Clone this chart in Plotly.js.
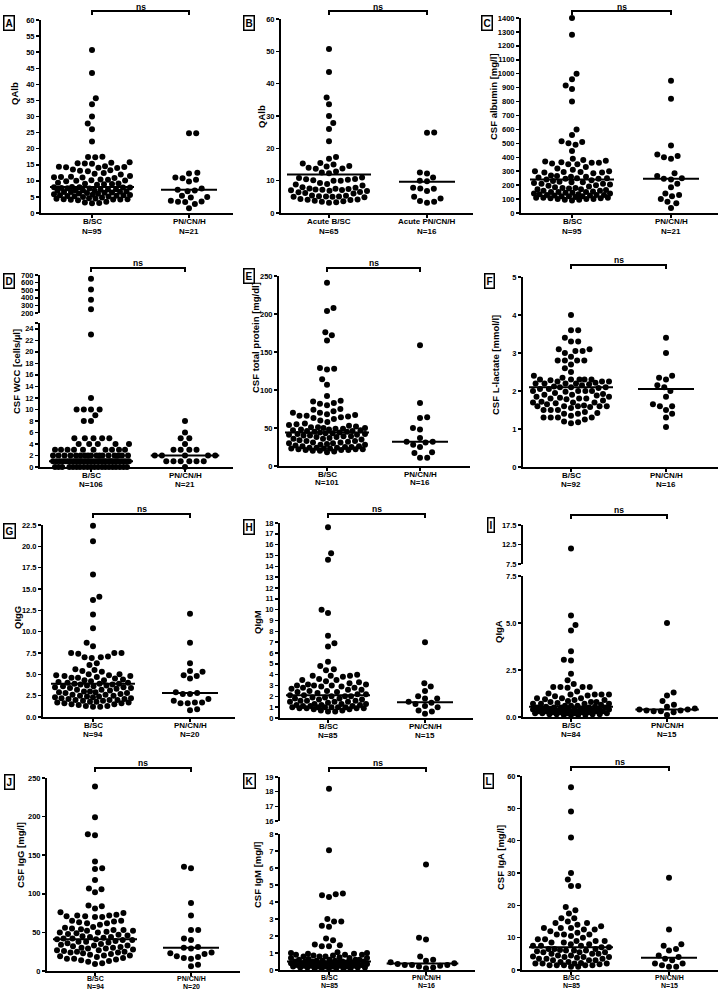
<!DOCTYPE html>
<html><head><meta charset="utf-8">
<script src="https://cdn.plot.ly/plotly-3.0.1.min.js"></script>
<style>body{margin:0;background:#fff}#chart{width:722px;height:992px}</style>
</head><body><div id="chart"></div>
<script>
// ---------------- DATA ----------------
const groupCats = ["B/SC", "PN/CN/H"];
const catsA = ["B/SC<br>N=95", "PN/CN/H<br>N=21"];
const catsB = ["Acute B/SC<br>N=65", "Acute PN/CN/H<br>N=16"];
const catsC = ["B/SC<br>N=95", "PN/CN/H<br>N=21"];
const catsD = ["B/SC<br>N=106", "PN/CN/H<br>N=21"];
const catsE = ["B/SC<br>N=101", "PN/CN/H<br>N=16"];
const catsF = ["B/SC<br>N=92", "PN/CN/H<br>N=16"];
const catsG = ["B/SC<br>N=94", "PN/CN/H<br>N=20"];
const catsH = ["B/SC<br>N=85", "PN/CN/H<br>N=15"];
const catsI = ["B/SC<br>N=84", "PN/CN/H<br>N=15"];
const catsJ = ["B/SC<br>N=94", "PN/CN/H<br>N=20"];
const catsK = ["B/SC<br>N=85", "PN/CN/H<br>N=16"];
const catsL = ["B/SC<br>N=85", "PN/CN/H<br>N=15"];

const yTitles = ["QAlb", "QAlb", "CSF albumin [mg/l]", "CSF WCC [cells/µl]", "CSF total protein [mg/dl]",
  "CSF L-lactate [mmol/l]", "QIgG", "QIgM", "QIgA", "CSF IgG [mg/l]", "CSF IgM [mg/l]", "CSF IgA [mg/l]"];
const panelLetters = ["A","B","C","D","E","F","G","H","I","J","K","L"];
const sigText = "ns";

const qalb_bsc = [50.7, 43.5, 35.7, 33.8, 30.0, 27.8, 26.0, 22.2,
  17.4, 17.3, 17.5, 15.5, 15.3, 15.6, 15.8, 15.4, 14.3, 14.2, 14.5, 14.1, 14.4, 14.0,
  13.3, 13.1, 13.5, 13.0, 12.2, 12.0, 12.4, 11.3, 11.0, 11.5, 11.2, 10.9, 11.1,
  10.2, 10.0, 10.4, 10.1, 9.9, 10.3, 9.2, 9.0, 8.8, 9.4, 8.9, 9.1,
  8.1, 8.0, 7.9, 7.8, 7.7, 8.0, 7.9, 7.6, 7.2, 7.0, 7.3, 6.9, 7.1, 7.4, 6.8, 7.0,
  6.5, 6.3, 6.6, 6.2, 6.4, 6.0, 6.1, 6.5, 5.6, 5.8, 5.5, 5.4, 5.7, 5.2, 5.5, 5.3, 5.0, 5.1,
  4.8, 4.5, 4.2, 4.3, 4.4, 4.1, 4.6, 4.0, 4.2, 4.3, 3.0, 3.1, 3.3, 3.5];
const qalb_pn = [24.8, 24.8, 12.5, 12.3, 11.0, 10.8, 10.3, 9.8, 7.6, 7.2, 7.0, 6.8, 5.4, 5.0, 4.8, 3.8, 3.6, 3.5, 3.4, 2.8, 1.5];
const qalb_lines = [8.1, 7.2];

const qalbAcute_bsc = [50.7, 43.6, 35.7, 33.6, 30.0, 27.8, 26.0, 22.2, 17.3, 16.8, 15.5, 15.3, 15.0,
  14.5, 14.4, 14.0, 13.8, 13.7, 12.8, 12.5, 12.3, 11.0, 10.8, 10.5, 10.3, 10.1, 10.0, 10.0, 10.4,
  9.3, 9.0, 8.8, 8.5, 8.0, 7.8, 7.6, 7.5, 7.2, 7.0, 6.8, 7.1, 7.4, 6.9, 7.3, 6.5, 6.2, 6.0, 6.4,
  5.3, 5.0, 5.1, 5.2, 4.9, 5.0, 5.4, 5.1, 4.2, 4.0, 4.3, 4.1, 3.5, 3.3, 3.8, 3.6, 3.2];
const qalbAcute_pn = [24.8, 24.9, 12.5, 12.2, 11.0, 9.8, 10.0, 7.8, 7.5, 7.6, 6.8, 5.0, 4.5, 3.7, 3.5, 3.2];
const qalbAcute_lines = [11.9, 9.7];

const alb_bsc = [1400, 1280, 1000, 960, 915, 890, 800, 600, 560, 515, 510, 500, 490, 445,
  390, 380, 375, 370, 365, 360, 360, 355, 350, 350, 330, 320, 310, 300, 300, 295, 295, 290, 290, 285,
  270, 265, 260, 260, 255, 250, 250, 245, 245, 240, 235, 230, 225, 220, 220, 215, 210, 210, 205, 200,
  195, 190, 185, 180, 180, 175, 170, 170, 165, 160, 160, 155, 150, 150, 145, 145, 140, 140, 135, 130,
  130, 125, 120, 120, 115, 110, 110, 105, 100, 100, 95, 95, 90, 100, 105, 110, 120, 125, 130, 135, 150];
const alb_pn = [950, 820, 485, 420, 410, 400, 390, 285, 265, 250, 245, 240, 210, 185, 140, 130, 120, 100, 80, 70, 35];
const alb_lines = [240, 245];

const wcc_bsc = [650, 510, 375, 250, 23, 12, 10, 10, 10, 10, 9, 8, 8, 5, 5, 5, 5, 5, 4, 4, 4, 4, 4,
  3, 3, 3, 3, 3, 3, 3, 3, 3, 3,
  2, 2, 2, 2, 2, 2, 2, 2, 2, 2, 2, 2, 2, 2, 2, 2, 2,
  1, 1, 1, 1, 1, 1, 1, 1, 1, 1, 1, 1, 1, 1, 1, 1, 1, 1, 1, 1, 1, 1, 1, 1, 1, 1, 1, 1, 1, 1, 1, 1, 1, 1, 1, 1,
  0, 0, 0, 0, 0, 0, 0, 0, 0, 0, 0, 0, 0, 0, 0, 0, 0, 0, 0, 0];
const wcc_pn = [8, 6, 5, 5, 4, 3, 3, 3, 3, 2, 2, 2, 2, 2, 1, 1, 1, 1, 1, 1, 0];
const wcc_lines = [1, 2];

const tp_bsc = [241, 208, 204, 176, 172, 165, 129, 128, 127, 114, 107, 92, 86, 85, 83, 82, 80, 75, 74,
  72, 70, 70, 68, 67, 66, 66, 65, 64, 63, 62, 60, 58, 56, 55, 54, 53, 52, 51, 51, 50, 50, 49, 48, 47, 46, 45,
  44, 43, 42, 42, 41, 40, 40, 39, 38, 38, 37, 36, 36, 35, 34, 33, 33, 32, 31, 31, 30, 30, 29, 28, 28, 27,
  26, 26, 25, 25, 24, 24, 24, 23, 23, 23, 22, 22, 22, 21, 21, 21, 20, 20, 19, 18,
  45, 46, 47, 44, 43, 48, 49, 41, 39];
const tp_pn = [159, 83, 64, 63, 50, 48, 37, 32, 32, 31, 28, 25, 18, 17, 11, 11];
const tp_lines = [44, 32];

const lac_bsc = [4.0, 3.6, 3.6, 3.4, 3.3, 3.3, 3.1, 3.1, 3.05, 3.05, 3.0, 2.9, 2.8, 2.8, 2.8, 2.8, 2.7, 2.6, 2.5, 2.4,
  2.35, 2.3, 2.3, 2.3, 2.3, 2.3, 2.28, 2.25, 2.25, 2.25, 2.22, 2.2, 2.2, 2.2, 2.2, 2.18, 2.15, 2.12, 2.1, 2.1,
  2.1, 2.08, 2.05, 2.05, 2.0, 2.0, 2.0, 2.0, 1.98, 1.95, 1.92, 1.9, 1.9, 1.88, 1.85, 1.85, 1.82, 1.8, 1.8, 1.8,
  1.78, 1.75, 1.72, 1.7, 1.7, 1.7, 1.68, 1.65, 1.62, 1.6, 1.6, 1.6, 1.6, 1.6, 1.58, 1.55, 1.5, 1.5, 1.5, 1.45,
  1.42, 1.4, 1.4, 1.35, 1.3, 1.3, 1.3, 1.3, 1.25, 1.2, 1.18, 1.15];
const lac_pn = [3.4, 3.0, 2.4, 2.35, 2.3, 2.15, 2.1, 2.0, 1.85, 1.65, 1.6, 1.6, 1.5, 1.4, 1.3, 1.05];
const lac_lines = [2.1, 2.05];

const qigg_bsc = [22.4, 20.6, 16.7, 14.1, 13.7, 12.0, 10.4, 8.7, 8.3,
  7.5, 7.5, 7.5, 7.4, 7.1, 7.0, 7.0, 6.9, 6.3, 6.1, 5.6, 5.5, 5.4, 5.3, 5.0, 5.0, 4.9, 4.9, 4.8, 4.8, 4.7, 4.6,
  4.5, 4.4, 4.3, 4.3, 4.2, 4.1, 4.0, 4.0, 3.9, 3.9, 3.9, 3.8, 3.8, 3.7, 3.7, 3.6,
  3.5, 3.5, 3.4, 3.4, 3.3, 3.2, 3.2, 3.1, 3.0, 3.0, 2.9, 2.9, 2.8, 2.8, 2.7, 2.6,
  2.5, 2.5, 2.4, 2.4, 2.3, 2.3, 2.2, 2.2, 2.1, 2.1, 2.0, 2.0, 2.0, 1.9, 1.9, 1.8,
  1.8, 1.7, 1.7, 1.6, 1.6, 1.5, 1.5, 1.4, 1.3, 1.3, 1.2, 1.2, 3.6, 4.6, 2.6];
const qigg_pn = [12.1, 8.7, 6.3, 5.4, 5.3, 4.9, 4.8, 4.5, 2.9, 2.8, 2.7, 2.7, 2.1, 1.9, 1.7, 1.7, 1.6, 1.6, 0.9, 0.8];
const qigg_lines = [3.9, 2.8];

const qigm_bsc = [17.6, 15.2, 14.6, 10.0, 9.7, 7.6, 6.9, 6.6, 5.2, 4.8, 4.5, 4.4,
  4.0, 3.9, 3.9, 3.9, 3.8, 3.6, 3.5, 3.4, 3.3, 3.2, 3.1, 3.1, 3.0, 3.0, 2.9, 2.9, 2.8, 2.7, 2.6, 2.5, 2.5, 2.4, 2.3,
  2.2, 2.2, 2.1, 2.1, 2.0, 2.0, 1.9, 1.9, 1.8, 1.8, 1.7, 1.6, 1.6, 1.5, 1.5,
  1.4, 1.3, 1.3, 1.2, 1.2, 1.1, 1.1, 1.0, 1.0, 1.0, 1.0, 0.9, 0.9, 0.9, 0.8,
  0.8, 0.7, 0.7, 0.6, 0.6, 1.0, 1.0, 1.1, 1.2, 1.3, 1.5, 1.6, 1.7, 2.0, 2.4, 2.6, 2.8, 3.0, 3.5, 0.9];
const qigm_pn = [7.0, 3.2, 2.9, 2.5, 2.0, 1.8, 1.8, 1.5, 1.4, 1.3, 1.1, 1.0, 0.7, 0.6, 0.4];
const qigm_lines = [2.1, 1.45];

const qiga_bsc = [11.5, 5.4, 4.9, 4.6, 3.5, 3.05, 3.0, 2.3, 1.95, 1.75,
  1.6, 1.6, 1.6, 1.6, 1.55, 1.35, 1.25, 1.2, 1.2, 1.2, 1.2, 1.15,
  1.1, 1.0, 1.0, 1.0, 0.95, 0.9, 0.85, 0.8, 0.8, 0.8, 0.75, 0.7, 0.7, 0.7, 0.65, 0.6,
  0.6, 0.55, 0.55, 0.5, 0.5, 0.5, 0.5, 0.45, 0.45, 0.45, 0.4, 0.4, 0.4, 0.4, 0.4, 0.35,
  0.35, 0.35, 0.3, 0.3, 0.3, 0.3, 0.3, 0.25, 0.25, 0.25, 0.25, 0.2, 0.2, 0.2, 0.2, 0.2,
  0.15, 0.15, 0.15, 0.15, 0.1, 0.1, 0.1, 0.1, 0.6, 0.7, 0.9, 0.5, 0.3, 0.4];
const qiga_pn = [5.0, 1.3, 1.15, 0.85, 0.65, 0.55, 0.45, 0.4, 0.4, 0.35, 0.35, 0.3, 0.3, 0.25, 0.1];
const qiga_lines = [0.55, 0.4];

const igg_bsc = [239, 199, 177, 176, 142, 133, 132, 118, 107, 106, 102, 85, 84, 81, 76, 75,
  73, 72, 72, 71, 71, 70, 70, 65, 65, 64, 63, 62, 62, 60,
  57, 56, 55, 54, 53, 53, 52, 52, 51, 50, 50, 49, 48, 47,
  46, 45, 44, 43, 42, 42, 41, 41, 40, 40, 39, 38, 37, 36, 35,
  34, 33, 33, 32, 31, 30, 30, 29, 29, 28, 27, 27, 26, 25, 25,
  24, 24, 23, 22, 21, 20, 20, 19, 18, 17, 16, 16, 15, 14, 13, 12, 10, 9, 44, 38];
const igg_pn = [135, 133, 88, 72, 53, 53, 42, 40, 31, 30, 29, 24, 23, 22, 19, 18, 17, 16, 8, 6];
const igg_lines = [41, 30];

const igm_bsc = [18.2, 7.05, 4.5, 4.45, 4.4, 4.3, 3.0, 2.85, 2.85, 2.6, 2.55, 1.85, 1.75, 1.5, 1.45, 1.4, 1.4,
  1.05, 1.0, 1.0, 0.95, 0.95, 0.9, 0.9, 0.9, 0.85, 0.85, 0.8, 0.8, 0.8, 0.75,
  0.7, 0.7, 0.7, 0.65, 0.6, 0.6, 0.6, 0.55, 0.55, 0.55, 0.5, 0.5, 0.5, 0.5,
  0.45, 0.45, 0.45, 0.4, 0.4, 0.4, 0.4, 0.4, 0.35, 0.35, 0.35, 0.35, 0.3, 0.3, 0.3, 0.3,
  0.3, 0.25, 0.25, 0.25, 0.25, 0.2, 0.2, 0.2, 0.2, 0.2, 0.15, 0.15, 0.15, 0.15, 0.1, 0.1, 0.1, 0.1, 0.1, 0.1,
  0.6, 0.5, 0.4, 0.3];
const igm_pn = [6.2, 1.9, 1.8, 0.8, 0.6, 0.55, 0.45, 0.4, 0.35, 0.3, 0.3, 0.3, 0.25, 0.2, 0.15, 0.1];
const igm_lines = [0.5, 0.38];

const iga_bsc = [56.5, 49, 41, 30, 28, 26, 26, 19.5, 18.5, 17.5, 16, 16, 15, 14.5, 14.5, 14, 13.5,
  13, 13, 13, 12.5, 12.5, 12, 11.5, 11, 11, 11, 10.5, 10,
  9.5, 9.5, 9, 9, 9, 8.5, 8.5, 8, 8, 7.5, 7.5, 7.5, 7, 7,
  6.5, 6.5, 6.5, 6, 6, 6, 5.5, 5.5, 5.5, 5, 5, 5, 4.5, 4.5,
  4, 4, 4, 3.5, 3.5, 3.5, 3, 3, 3, 2.5, 2.5, 2, 2, 2, 2, 1.5, 1.5, 1.5, 1.5, 1.5, 1, 1, 1.8, 2.2, 3.8, 4.2, 5.8, 6.2];
const iga_pn = [28.5, 12.5, 8, 7.5, 6.5, 6, 4.5, 4, 3.5, 3, 2, 2, 1.5, 1, 1];
const iga_lines = [7.0, 3.8];

// y tick values / labels
const ticksA = [0, 5, 10, 15, 20, 25, 30, 35, 40, 45, 50, 55, 60];
const ticksB = [0, 10, 20, 30, 40, 50, 60];
const ticksC = [0, 100, 200, 300, 400, 500, 600, 700, 800, 900, 1000, 1100, 1200, 1300, 1400];
const ticksD = [0, 2, 4, 6, 8, 10, 12, 14, 16, 18, 20, 22, 24, 25];
const tickTextD = ["0", "2", "4", "6", "8", "10", "12", "14", "16", "18", "20", "22", "24", ""];
const ticksD2 = [200, 300, 400, 500, 600, 700];
const ticksE = [0, 50, 100, 150, 200, 250];
const ticksF = [0, 1, 2, 3, 4, 5];
const ticksG = [0, 2.5, 5, 7.5, 10, 12.5, 15, 17.5, 20, 22.5];
const ticksH = [0, 1, 2, 3, 4, 5, 6, 7, 8, 9, 10, 11, 12, 13, 14, 15, 16, 17, 18];
const ticksI = [0, 2.5, 5, 7.5];
const ticksI2 = [7.5, 12.5, 17.5];
const ticksJ = [0, 50, 100, 150, 200, 250];
const ticksK = [0, 1, 2, 3, 4, 5, 6, 7, 8];
const ticksK2 = [16, 17, 18, 19];
const ticksL = [0, 10, 20, 30, 40, 50, 60];

// ---------------- LAYOUT GEOMETRY (pixels) ----------------
const W = 722, H = 992;
// offsets of the two label lines below each row's x axis, and their font size
const ROWLAB = [[9, 18, 8], [8.5, 17, 8], [8.5, 17, 8], [7.5, 15.5, 7]];
const P = [
 {row:0, cats:catsA, d:[qalb_bsc, qalb_pn], ln:qalb_lines, x0:41, x1:233, c0:92, c1:189, segs:[{lo:0,hi:60,pb:213,pt:20,tv:ticksA}], tX:14, tY:93, bX:9, bY:23, brY:11, nsY:7},
 {row:0, cats:catsB, d:[qalbAcute_bsc, qalbAcute_pn], ln:qalbAcute_lines, x0:281, x1:473, c0:329, c1:427, segs:[{lo:0,hi:60,pb:213,pt:19,tv:ticksB}], tX:262, tY:117, bX:249, bY:23, brY:11, nsY:7},
 {row:0, cats:catsC, d:[alb_bsc, alb_pn], ln:alb_lines, x0:521, x1:718, c0:572, c1:671, segs:[{lo:0,hi:1400,pb:213,pt:18,tv:ticksC}], tX:493, tY:97, bX:487, bY:23, brY:11, nsY:7},
 {row:1, cats:catsD, d:[wcc_bsc, wcc_pn], ln:wcc_lines, x0:40, x1:233, c0:91, c1:185, segs:[{lo:0,hi:25,pb:467,pt:323,tv:ticksD,tt:tickTextD},{lo:200,hi:700,pb:313,pt:275,tv:ticksD2}], tX:16, tY:372, bX:9, bY:281, brY:268, nsY:263},
 {row:1, cats:catsE, d:[tp_bsc, tp_pn], ln:tp_lines, x0:279, x1:470, c0:327, c1:420, segs:[{lo:0,hi:250,pb:466,pt:276,tv:ticksE}], tX:255, tY:338, bX:249, bY:276, brY:268, nsY:263},
 {row:1, cats:catsF, d:[lac_bsc, lac_pn], ln:lac_lines, x0:523, x1:718, c0:571, c1:666, segs:[{lo:0,hi:5,pb:467,pt:277,tv:ticksF}], tX:495, tY:365, bX:489, bY:281, brY:265, nsY:260},
 {row:2, cats:catsG, d:[qigg_bsc, qigg_pn], ln:qigg_lines, x0:43, x1:235, c0:93, c1:190, segs:[{lo:0,hi:22.5,pb:717,pt:525,tv:ticksG,fmt:'.1f'}], tX:17, tY:618, bX:9, bY:531, brY:514, nsY:509},
 {row:2, cats:catsH, d:[qigm_bsc, qigm_pn], ln:qigm_lines, x0:280, x1:473, c0:328, c1:425, segs:[{lo:0,hi:18,pb:718,pt:523,tv:ticksH}], tX:257, tY:622, bX:249, bY:527, brY:514, nsY:509},
 {row:2, cats:catsI, d:[qiga_bsc, qiga_pn], ln:qiga_lines, x0:523, x1:718, c0:571, c1:667, segs:[{lo:0,hi:7.5,pb:717,pt:576,tv:ticksI,fmt:'.1f'},{lo:7.5,hi:17.5,pb:564,pt:525,tv:ticksI2,fmt:'.1f'}], tX:498, tY:632, bX:491, bY:525, brY:515, nsY:510},
 {row:3, cats:catsJ, d:[igg_bsc, igg_pn], ln:igg_lines, x0:47, x1:240, c0:95, c1:191, segs:[{lo:0,hi:250,pb:971,pt:778,tv:ticksJ}], tX:20, tY:855, bX:9, bY:782, brY:768, nsY:763},
 {row:3, cats:catsK, d:[igm_bsc, igm_pn], ln:igm_lines, x0:280, x1:475, c0:329, c1:426, segs:[{lo:0,hi:8,pb:970,pt:834,tv:ticksK},{lo:16,hi:19,pb:821,pt:777,tv:ticksK2}], tX:257, tY:875, bX:249, bY:781, brY:768, nsY:763},
 {row:3, cats:catsL, d:[iga_bsc, iga_pn], ln:iga_lines, x0:522, x1:718, c0:571, c1:669, segs:[{lo:0,hi:60,pb:970,pt:776,tv:ticksL}], tX:500, tY:858, bX:488, bY:781, brY:767, nsY:762}
];

const FONT = 'Liberation Sans, Arial, Helvetica, sans-serif';
const DOT = 6, SEP = 7.2, MAXHALF = 38;

function segIndex(p, v) { for (let i = 0; i < p.segs.length; i++) if (v <= p.segs[i].hi) return i; return p.segs.length - 1; }
function pyOf(p, v) { const s = p.segs[segIndex(p, v)]; return s.pb - (v - s.lo) / (s.hi - s.lo) * (s.pb - s.pt); }

// greedy beeswarm in pixel space (offsets computed from the values)
function swarm(ys, d, maxHalf) {
  const n = ys.length, order = [...Array(n).keys()].sort((a, b) => ys[b] - ys[a]);
  const xs = new Array(n), placed = []; let flip = 1;
  for (const i of order) {
    const y = ys[i];
    const near = placed.filter(q => Math.abs(q.y - y) < d);
    const ivs = near.map(q => { const w = Math.sqrt(d * d - (q.y - y) * (q.y - y)); return [q.x - w, q.x + w]; });
    const cands = [0]; ivs.forEach(v => cands.push(v[0], v[1]));
    const ok = c => Math.abs(c) <= maxHalf && ivs.every(v => c <= v[0] + 1e-6 || c >= v[1] - 1e-6);
    let best = null;
    for (const c of cands) {
      if (!ok(c)) continue;
      if (best === null || Math.abs(c) < Math.abs(best) - 1e-6 ||
          (Math.abs(Math.abs(c) - Math.abs(best)) < 1e-6 && c * flip > 0)) best = c;
    }
    if (best === null) {
      let bs = -1;
      for (let k = 0; k <= maxHalf * 2; k++) {
        for (const sgn of [flip, -flip]) {
          const c = sgn * k * 0.5; if (Math.abs(c) > maxHalf) continue;
          let m = Infinity; near.forEach(q => { const dd = Math.hypot(q.x - c, q.y - y); if (dd < m) m = dd; });
          if (m > bs + 1e-9) { bs = m; best = c; }
        }
      }
    }
    if (best !== 0) flip = -flip;
    xs[i] = best; placed.push({ x: best, y: y });
  }
  return xs;
}

const traces = [], shapes = [], annotations = [];
const layout = {width: W, height: H, margin: {l:0, r:0, t:0, b:0}, showlegend: false,
  paper_bgcolor: '#fff', plot_bgcolor: 'rgba(0,0,0,0)', font: {family: FONT, color: '#000'}};
const tickFont = {family: FONT, size: 7.5, color: '#000', weight: 'bold'};
let yCount = 0;

P.forEach((p, k) => {
  const xn = k + 1, xid = 'x' + xn, xkey = 'xaxis' + xn;
  const span = p.c1 - p.c0;
  const yids = p.segs.map(() => { yCount++; return yCount; });
  layout[xkey] = {domain: [p.x0 / W, p.x1 / W], range: [(p.x0 - p.c0) / span, (p.x1 - p.c0) / span],
    anchor: 'y' + yids[0], showline: true, linewidth: 2, linecolor: '#000', ticks: 'outside', ticklen: 3,
    tickwidth: 1.5, tickcolor: '#000', tickmode: 'array', tickvals: [0, 1], showticklabels: false,
    showgrid: false, zeroline: false, fixedrange: true};
  p.segs.forEach((s, si) => {
    const ax = {domain: [1 - s.pb / H, 1 - s.pt / H], range: [s.lo, s.hi], anchor: xid,
      showline: true, linewidth: 2, linecolor: '#000', ticks: 'outside', ticklen: 3, tickwidth: 1.5,
      tickcolor: '#000', tickmode: 'array', tickvals: s.tv, tickfont: tickFont,
      showgrid: false, zeroline: false, fixedrange: true};
    if (s.tt) ax.ticktext = s.tt;
    if (s.fmt) ax.tickformat = s.fmt;
    layout['yaxis' + yids[si]] = ax;
  });
  // category labels (two lines each) below the x axis
  const pb = p.segs[0].pb, offs = ROWLAB[p.row];
  p.cats.forEach((c, g) => {
    c.split('<br>').forEach((line, li) => {
      annotations.push({xref: xid, yref: 'paper', x: g, y: 1 - (pb + offs[li]) / H, xanchor: 'center', yanchor: 'middle',
        text: line, showarrow: false, borderpad: 0, font: {family: FONT, size: offs[2], color: '#000', weight: 'bold'}});
    });
  });
  p.d.forEach((vals, g) => {
    const pys = vals.map(v => pyOf(p, v));
    const dx = swarm(pys, SEP, MAXHALF);
    p.segs.forEach((s, si) => {
      const xs = [], ys = [];
      vals.forEach((v, i) => { if (segIndex(p, v) === si) { xs.push(g + dx[i] / span); ys.push(v); } });
      if (xs.length) traces.push({type: 'scatter', mode: 'markers', x: xs, y: ys, xaxis: xid, yaxis: 'y' + yids[si],
        marker: {size: DOT, color: '#000', line: {width: 0}}, cliponaxis: false, hoverinfo: 'skip', name: groupCats[g]});
    });
    const lo = Math.min(Math.min(...dx) - 4, -28), hi = Math.max(Math.max(...dx) + 4, 28);
    shapes.push({type: 'line', xref: xid, yref: 'y' + yids[0], x0: g + lo / span, x1: g + hi / span,
      y0: p.ln[g], y1: p.ln[g], line: {color: '#000', width: 2}, layer: 'above'});
  });
  // significance bracket
  const yb = 1 - p.brY / H, yt = 1 - (p.brY + 4) / H;
  shapes.push({type: 'path', xref: xid, yref: 'paper', path: `M 0,${yt} L 0,${yb} L 1,${yb} L 1,${yt}`,
    line: {color: '#000', width: 2}});
  annotations.push({xref: xid, yref: 'paper', x: 0.5, y: 1 - p.nsY / H, yanchor: 'middle', xanchor: 'center',
    text: sigText, showarrow: false, borderpad: 0, font: {family: FONT, size: 8.5, color: '#000', weight: 'bold'}});
  // y title
  annotations.push({xref: 'paper', yref: 'paper', x: p.tX / W, y: 1 - p.tY / H, xanchor: 'center', yanchor: 'middle',
    text: yTitles[k], textangle: -90, showarrow: false, font: {family: FONT, size: 9.5, color: '#000', weight: 'bold'}});
  // panel letter
  annotations.push({xref: 'paper', yref: 'paper', x: p.bX / W, y: 1 - p.bY / H, xanchor: 'center', yanchor: 'middle',
    text: panelLetters[k], showarrow: false, bordercolor: '#000', borderwidth: 1.5, borderpad: 1, bgcolor: '#fff',
    font: {family: FONT, size: 10, color: '#000', weight: 'bold'}});
});

layout.shapes = shapes;
layout.annotations = annotations;
Plotly.newPlot('chart', traces, layout, {staticPlot: true, displayModeBar: false});
</script>
</body></html>
